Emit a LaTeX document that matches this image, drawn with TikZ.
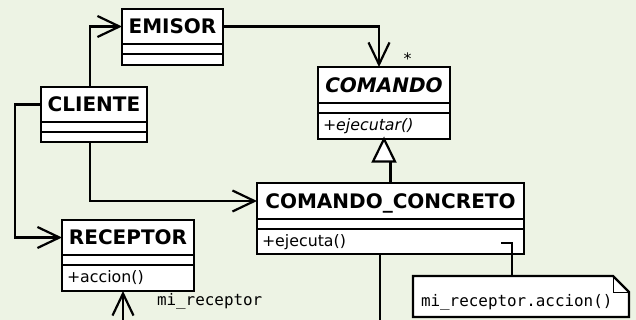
\documentclass[tikz,border=0pt]{standalone}
\usepackage{fontspec}
\setmainfont{DejaVu Sans}
\setmonofont{DejaVu Sans Mono}
\usetikzlibrary{arrows.meta,calc}
\definecolor{canvas}{RGB}{237,243,228}

% UML class: #1 id, #2 top-left corner, #3 width, #4 name compartment height,
% #5 operations compartment height, #6 class name, #7 operations
\newcommand\umlclass[7]{%
  \node[classbox, minimum width=#3, minimum height=#4+10pt+#5] (#1box) at (#2) {};
  \node[classpart, titletext, minimum width=#3, minimum height=#4] (#1) at (#1box.north west) {#6};
  \node[classpart, minimum width=#3, minimum height=10pt] (#1attr) at (#1.south west) {};
  \node[classpart, minimum width=#3, minimum height=#5] (#1ops) at (#1attr.south west) {};
  \node[optext] (#1optext) at ([xshift=5pt]#1ops.west) {#7};
}

\begin{document}
\begin{tikzpicture}[x=1pt,y=-1pt,
  every node/.style={inner sep=0pt, outer sep=0pt},
  umlline/.style={line width=2.2pt, black},
  classbox/.style={draw, line width=2.2pt, fill=white, anchor=north west, rectangle},
  classpart/.style={draw, line width=2.2pt, anchor=north west, rectangle},
  titletext/.style={font=\fontsize{20}{24}\selectfont\bfseries, text height=14.6pt, text depth=0pt},
  optext/.style={font=\fontsize{15.8}{19}\selectfont, anchor=west, text height=12pt, text depth=2.1pt},
  monotext/.style={font=\fontsize{15.9}{19}\selectfont\ttfamily, anchor=base west},
  assoc/.style={umlline, -{Straight Barb[length=22pt,width=21pt]}},
]
\fill[canvas] (0,0) rectangle (636,320);
\useasboundingbox (0,0) rectangle (636,320);

% classes
\umlclass{emisor}{122,9}{101pt}{35pt}{11pt}{EMISOR}{}
\umlclass{cliente}{41,87}{106pt}{35pt}{10pt}{CLIENTE}{}
\umlclass{comando}{318,67}{132pt}{36pt}{26pt}{\itshape COMANDO}{\itshape +ejecutar()}
\umlclass{cc}{257,183}{267pt}{36pt}{25pt}{COMANDO\_CONCRETO}{+ejecuta()}
\umlclass{receptor}{62,220}{132pt}{35pt}{26pt}{RECEPTOR}{+accion()}

% note with folded corner
\node[minimum width=216pt, minimum height=41pt, anchor=north west] (note) at (413,276) {};
\draw[umlline, fill=white] (note.north west) -- ([xshift=-16pt]note.north east)
  -- ([yshift=-16pt]note.north east) -- (note.south east) -- (note.south west) -- cycle;
\draw[line width=1pt] ([xshift=-16pt]note.north east) |- ([yshift=-16pt]note.north east);
\node[monotext] (notetext) at (421,306.8) {mi\_receptor.accion()};

% associations
\draw[assoc] ([xshift=-4pt]clientebox.north) |- (emisor.west);
\draw[assoc] (cliente.west) -- ++(-26,0) |- (receptor.west);
\draw[assoc] ([xshift=-4pt]clientebox.south) |- (cc.west);
\draw[assoc] (emisor.east) -| ([xshift=-5pt]comandobox.north);
\node[font=\fontsize{15.8}{19}\selectfont, anchor=base] (mult) at (407.5,64.8) {*};

% generalization
\coordinate (genbase) at ([yshift=-22.5pt]comandobox.south);
\draw[umlline] (ccbox.north) -- (ccbox.north |- genbase);
\draw[umlline, fill=white] (comandobox.south) -- ++(-11,22.5) -- ++(22,0) -- cycle;

% reference to the receiver
\coordinate (recvfoot) at (123,320);
\draw[assoc] (recvfoot) -- (recvfoot |- receptorbox.south);
\node[monotext] (recvlabel) at (157,305) {mi\_receptor};

% link leaving the concrete command downwards
\coordinate (ccfoot) at (380,320);
\draw[umlline] (ccfoot |- ccbox.south) -- (ccfoot);

% note anchor
\coordinate (notehook) at (501,243.3);
\draw[umlline] (notehook) -| ([xshift=-8.7pt]note.north);
\end{tikzpicture}
\end{document}
